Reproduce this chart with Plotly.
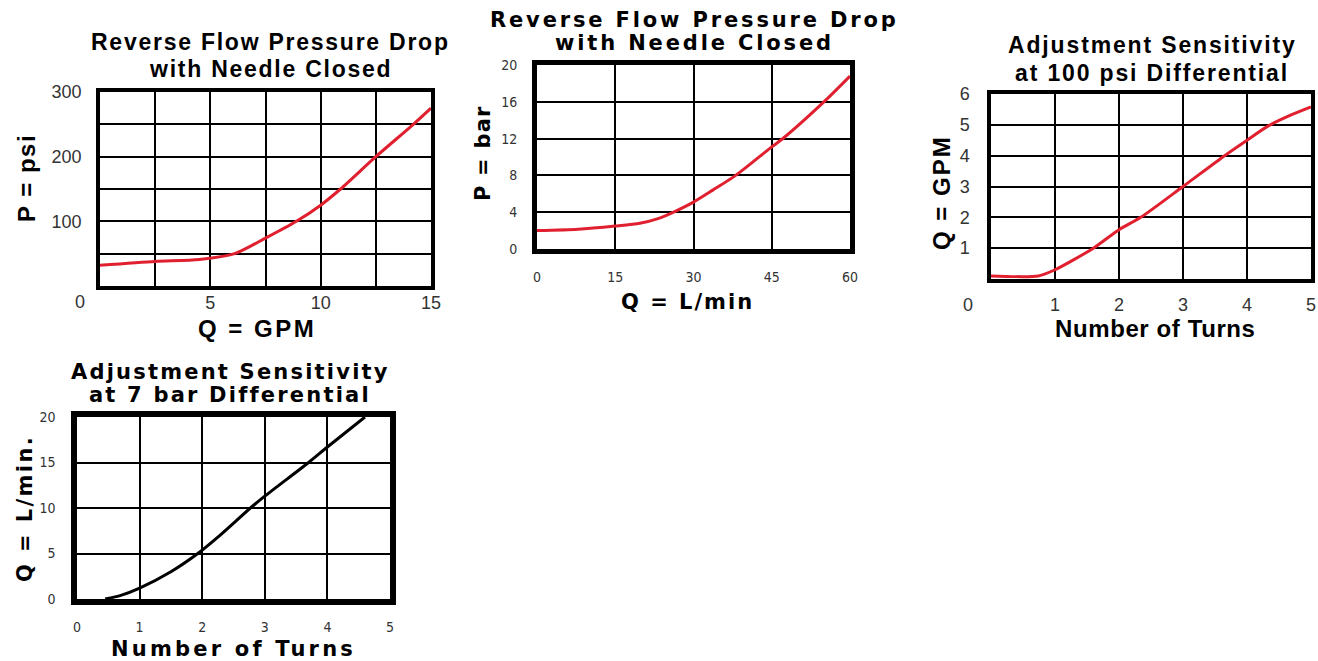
import plotly.graph_objects as go

W, H = 1318, 661

# ---------------- data ----------------
# Chart 1: Reverse flow pressure drop (psi vs GPM)
q_gpm = [0, 2.5, 4.5, 6.1, 7.5, 8.9, 10, 10.9, 12.5, 14.2, 15]
p_psi = [32, 38, 41, 50, 74, 100, 125, 150, 200, 250, 275]

# Chart 2: Reverse flow pressure drop (bar vs L/min)
q_lpm = [0, 7.9, 15, 19.7, 23.2, 26.5, 30, 33.7, 38.1, 45, 46.9, 55.2, 60]
p_bar = [2.0, 2.15, 2.5, 2.8, 3.3, 4.1, 5.1, 6.4, 8.0, 11.1, 11.9, 16.1, 18.8]

# Chart 3: Adjustment sensitivity at 100 psi (GPM vs turns)
turns_gpm = [0, 0.74, 1, 1.6, 2, 2.34, 3, 3.65, 4, 4.32, 4.69, 5]
flow_gpm = [0.1, 0.1, 0.3, 1.0, 1.6, 2.0, 3.0, 4.0, 4.5, 4.95, 5.32, 5.58]

# Chart 4: Adjustment sensitivity at 7 bar (L/min vs turns)
turns_lpm = [0.45, 0.7, 1, 1.5, 1.93, 2.25, 2.77, 3, 3.7, 4, 4.6]
flow_lpm = [0, 0.4, 1.2, 3.0, 5.0, 6.8, 10, 11.3, 15, 16.7, 20]

# tick labels
c1_xticks = [0, 2.5, 5, 7.5, 10, 12.5, 15]
c1_xtext = ["", "", "5", "", "10", "", "15"]
c1_yticks = [0, 50, 100, 150, 200, 250, 300]
c1_ytext = ["", "", "100", "", "200", "", "300"]
c2_xticks = [0, 15, 30, 45, 60]
c2_yticks = [0, 4, 8, 12, 16, 20]
c3_xticks = [0, 1, 2, 3, 4, 5]
c3_xtext = ["", "1", "2", "3", "4", "5"]
c3_yticks = [0, 1, 2, 3, 4, 5, 6]
c3_ytext = ["", "1", "2", "3", "4", "5", "6"]
c4_xticks = [0, 1, 2, 3, 4, 5]
c4_yticks = [0, 5, 10, 15, 20]

RED = "#e0202f"


def px(x):
    return x / W


def py(y):
    return 1 - y / H


fig = go.Figure()

REG = "Liberation Sans, Arial, sans-serif"
NARROW = "Liberation Sans Narrow, DejaVu Sans Condensed, sans-serif"
HEAVY = "DejaVu Sans, sans-serif"

panels = [
    dict(n="", box=(100, 431, 92, 286), xr=[0, 15], yr=[0, 300],
         xt=c1_xticks, xtt=c1_xtext, yt=c1_yticks, ytt=c1_ytext,
         lw=3.5, gw=2, tf=dict(family=REG, size=18, color="#333"),
         xso=-2, yso=11, x=q_gpm, y=p_psi, color=RED),
    dict(n="2", box=(537, 850, 65, 249), xr=[0, 60], yr=[0, 20],
         xt=c2_xticks, xtt=[str(v) for v in c2_xticks],
         yt=c2_yticks, ytt=[str(v) for v in c2_yticks],
         lw=5, gw=1.5, tf=dict(family=NARROW, size=14, color="#333"),
         xso=11, yso=12, x=q_lpm, y=p_bar, color=RED),
    dict(n="3", box=(991, 1311, 94, 279), xr=[0, 5], yr=[0, 6],
         xt=c3_xticks, xtt=c3_xtext, yt=c3_yticks, ytt=c3_ytext,
         lw=3.5, gw=2, tf=dict(family=REG, size=18, color="#333"),
         xso=7, yso=14, x=turns_gpm, y=flow_gpm, color=RED),
    dict(n="4", box=(77, 390, 417, 599), xr=[0, 5], yr=[0, 20],
         xt=c4_xticks, xtt=[str(v) for v in c4_xticks],
         yt=c4_yticks, ytt=[str(v) for v in c4_yticks],
         lw=5.5, gw=1.5, tf=dict(family=NARROW, size=14, color="#333"),
         xso=10, yso=13, x=turns_lpm, y=flow_lpm, color="#000"),
]

layout_axes = {}
for p in panels:
    n = p["n"]
    x0, x1, y0, y1 = p["box"]
    common = dict(showline=True, mirror=True, linecolor="#000", linewidth=p["lw"],
                  showgrid=True, gridcolor="#000", gridwidth=p["gw"], zeroline=False,
                  ticks="", tickmode="array", tickfont=p["tf"], fixedrange=True,
                  automargin=False)
    layout_axes["xaxis" + n] = dict(common, domain=[px(x0), px(x1)], range=p["xr"],
                                    tickvals=p["xt"], ticktext=p["xtt"],
                                    anchor="y" + n, ticklabelstandoff=p["xso"])
    layout_axes["yaxis" + n] = dict(common, domain=[py(y1), py(y0)], range=p["yr"],
                                    tickvals=p["yt"], ticktext=p["ytt"],
                                    anchor="x" + n, ticklabelstandoff=p["yso"])
    fig.add_trace(go.Scatter(x=p["x"], y=p["y"], mode="lines",
                             line=dict(color=p["color"], width=3, shape="spline", smoothing=0.7),
                             xaxis="x" + n, yaxis="y" + n, showlegend=False,
                             hoverinfo="skip", cliponaxis=True))

anns = []


def ann(text, x, y, size, family, bold=True, angle=0, color="#000", ls=0):
    t = text
    if ls:
        t = "<span style='letter-spacing:%spx'>%s</span>" % (ls, t)
    if bold:
        t = "<b>" + t + "</b>"
    anns.append(dict(text=t, x=px(x), y=py(y), xref="paper", yref="paper",
                     showarrow=False, xanchor="center", yanchor="middle",
                     textangle=angle, font=dict(size=size, family=family, color=color)))


# titles
ann("Reverse Flow Pressure Drop", 270, 42, 23, REG, ls=1.75)
ann("with Needle Closed", 270, 69, 23, REG, ls=1.75)
ann("Reverse Flow Pressure Drop", 694, 20, 21, HEAVY, ls=2.85)
ann("with Needle Closed", 694, 43, 21, HEAVY, ls=2.85)
ann("Adjustment Sensitivity", 1152, 45, 23, REG, ls=1.85)
ann("at 100 psi Differential", 1152, 73, 23, REG, ls=1.85)
ann("Adjustment Sensitivity", 230, 372, 21, HEAVY, ls=2.2)
ann("at 7 bar Differential", 230, 395, 21, HEAVY, ls=2.2)

# axis titles
ann("Q = GPM", 257, 328, 24, REG, ls=2.5)
ann("P = psi", 27, 178, 24, REG, angle=-90, ls=1.5)
ann("Q = L/min", 687, 302, 21, HEAVY, ls=2)
ann("P = bar", 483, 153, 21, HEAVY, angle=-90, ls=1.2)
ann("Number of Turns", 1155, 328, 24, REG, ls=0.6)
ann("Q = GPM", 942, 193, 24, REG, angle=-90, ls=2)
ann("Number of Turns", 233, 649, 21, HEAVY, ls=3.2)
ann("Q = L/min.", 25, 509, 21, HEAVY, angle=-90, ls=2.4)

# corner zeros
ann("0", 80, 302, 18, REG, bold=False, color="#333")
ann("0", 968, 305, 18, REG, bold=False, color="#333")

fig.update_layout(width=W, height=H, margin=dict(l=0, r=0, t=0, b=0),
                  paper_bgcolor="white", plot_bgcolor="white",
                  annotations=anns, **layout_axes)

fig.write_html("out.html", config={"displayModeBar": False},
               post_script="document.body.style.margin='0';document.body.style.padding='0';")
